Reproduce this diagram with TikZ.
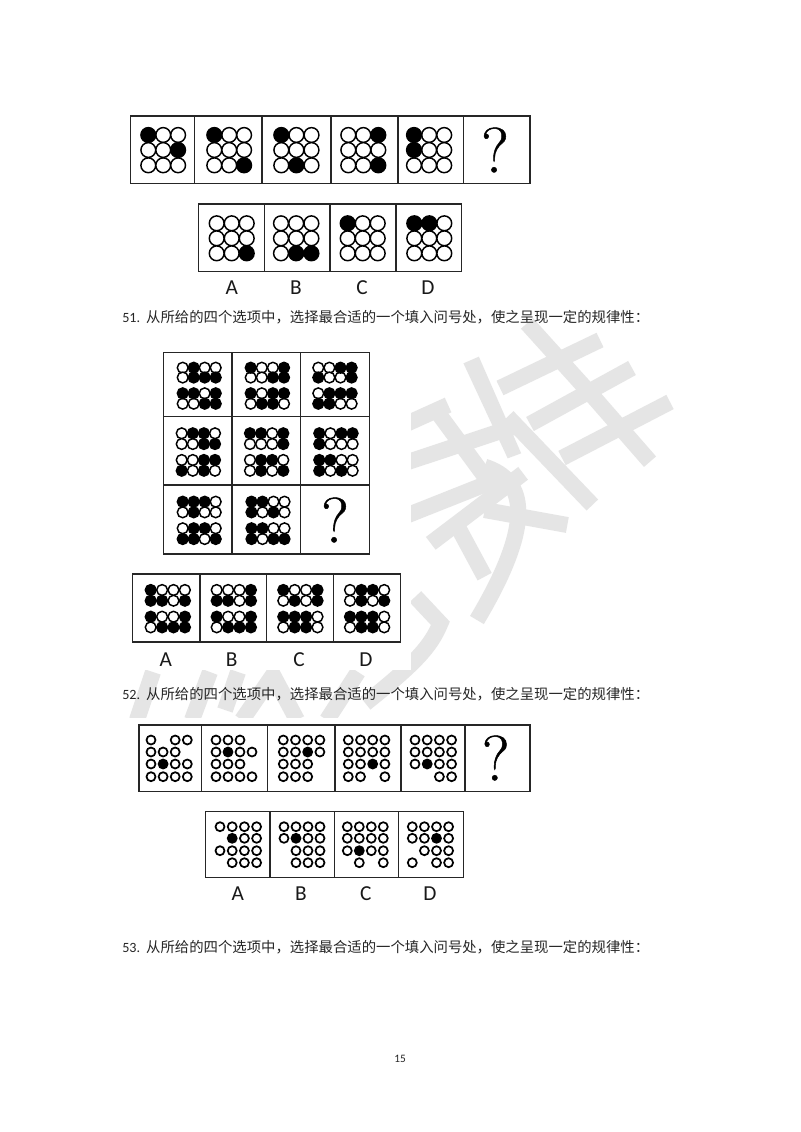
\documentclass[tikz,border=0pt]{standalone}
\usepackage{fontspec}
\setmainfont{Carlito}
\newfontfamily\cjkf{Noto Sans CJK SC}
\newfontfamily\qf[FakeBold=0.8]{Latin Modern Roman}
\tikzset{
  x=.75pt,y=-.75pt,
  boxline/.style={draw=black!85,line width=1.1pt},
  wm/.style={draw=black!10,line width=12pt,line cap=butt,line join=miter},
  wmf/.style={fill=black!10,draw=none},
  qtext/.style={anchor=west,inner sep=0pt,text=black!85,font=\fontsize{10.6}{12}\selectfont},
  lab/.style={inner sep=0pt,font=\fontsize{16}{17}\selectfont,text=black!90},
  qm/.style={inner sep=0pt,font=\qf\fontsize{#1}{#1}\selectfont},
  pageno/.style={inner sep=0pt,font=\fontsize{8.5}{10}\selectfont,text=black!85}
}
% #1 x0, #2 dx, #3 radius, #4 line width, #5 list y/{v,v,...}; 0 white, 1 black, 2 absent
\newcommand{\dotpanel}[5]{%
  \foreach \yy/\vals in {#5} {%
    \foreach \v [count=\ci from 0] in \vals {%
      \ifnum\v=0 \draw[black,line width=#4,fill=white] ({#1+\ci*#2},\yy) circle[radius=#3];\fi
    }%
  }%
  \foreach \yy/\vals in {#5} {%
    \foreach \v [count=\ci from 0] in \vals {%
      \ifnum\v=1 \draw[black,line width=#4,fill=black] ({#1+\ci*#2},\yy) circle[radius=#3];\fi
    }%
  }%
}
\newcommand{\qline}[3]{\node[qtext] (#1) at (122,#2) {#3.\hspace{4.5pt}{\cjkf\fontsize{10.78}{12}\selectfont 从所给的四个选项中，选择最合适的一个填入问号处，使之呈现一定的规律性：}};}
\begin{document}
\begin{tikzpicture}
\useasboundingbox (0,0) rectangle (800,1132);
\fill[white] (0,0) rectangle (800,1132);
% watermark
\begin{scope}[shift={(100,330)},x=.75pt/2.6,y=-.75pt/3]
  \fill[wmf] (945,100) -- (985,80) -- (1095,370) -- (1060,385) -- cycle;
  \draw[wm] (1060,260) -- (1280,525);
  \draw[wm] (1110,-20) -- (1290,210) -- (1430,395);
  \draw[wm] (790,285) -- (905,225);
  \draw[wm] (870,235) -- (1020,470);
  \draw[wm] (790,400) -- (1090,285);
  \draw[wm] (790,560) -- (1030,450);
  \draw[wm] (860,640) -- (1100,430) ;
  \draw[wm] (1000,410) .. controls (1110,450) and (1130,580) .. (980,870);
  \draw[wm] (1000,540) -- (1215,585);
  \draw[wm] (930,590) -- (1000,740);
  \draw[wm] (820,800) -- (885,880) .. controls (860,950) and (820,1000) .. (690,1120);
\end{scope}
\draw[wm] (500,388) -- (600,340);
\draw[wm] (530,424) -- (632,368);
\draw[wm] (562,458) -- (670,402);
% bottom hatch
\draw[wm] (153,672) -- (137,720);
\draw[wm] (210,672) -- (192,720);
\draw[wm] (238,672) -- (225,710);
\draw[wm] (242,720) -- (273,675) -- (297,720);
\draw[wm] (358,672) -- (327,720);
% white image backgrounds
\fill[white] (120,345) rectangle (411,670);
\fill[white] (120,718) rectangle (540,905);
% texts
\qline{q51}{317}{51}
\qline{q52}{694}{52}
\qline{q53}{947}{53}
\node[pageno] (pg) at (400,1059) {15};
\def\tr{7.4}\def\tw{1.1pt}
% --- top sequence
\draw[boxline] (130.5,116) rectangle (530,183.5);
\foreach \x in {194.5,262,331,398,463.5} \draw[boxline] (\x,116) -- (\x,183.5);
\dotpanel{148.3}{14.9}{\tr}{\tw}{135/{1,0,0},150/{0,0,1},165.3/{0,0,0}}
\dotpanel{214.3}{14.9}{\tr}{\tw}{135/{1,0,0},150/{0,0,0},165.3/{0,0,1}}
\dotpanel{281.3}{15.1}{\tr}{\tw}{135/{1,0,0},150/{0,0,0},165.3/{0,1,0}}
\dotpanel{348.3}{15}{\tr}{\tw}{135/{0,0,1},150/{0,0,0},165.3/{0,0,1}}
\dotpanel{414}{15.1}{\tr}{\tw}{135/{1,0,0},150/{1,0,0},165.3/{0,0,0}}
\node[qm=48] (q1) at (495,150) {?};
% --- options 1
\draw[boxline] (198.5,204) rectangle (461.5,271.5);
\foreach \x in {264.5,330,396} \draw[boxline] (\x,204) -- (\x,271.5);
\dotpanel{216.7}{15}{\tr}{\tw}{223.3/{0,0,0},238.3/{0,0,0},253.3/{0,0,1}}
\dotpanel{281}{15.2}{\tr}{\tw}{223.3/{0,0,0},238.3/{0,0,0},253.3/{0,1,1}}
\dotpanel{347.7}{15}{\tr}{\tw}{223.3/{1,0,0},238.3/{0,0,0},253.3/{0,0,0}}
\dotpanel{414.3}{15}{\tr}{\tw}{223.3/{1,1,0},238.3/{0,0,0},253.3/{0,0,0}}
\node[lab] (a1) at (231.7,288) {A};
\node[lab] (b1) at (296,288) {B};
\node[lab] (c1) at (362,288) {C};
\node[lab] (d1) at (428,288) {D};
% --- matrix 51
\draw[boxline] (163.5,352.5) rectangle (369.5,554);
\foreach \x in {232,300.5} \draw[boxline] (\x,352.5) -- (\x,554);
\foreach \y in {416.5,485} \draw[boxline] (163.5,\y) -- (369.5,\y);
\def\pr{5.4}\def\pw{1.1pt}
\dotpanel{182.7}{11}{\pr}{\pw}{367.7/{0,1,0,0},377.5/{0,1,1,1},393.3/{1,1,0,1},403.7/{0,0,1,1}}
\dotpanel{250.7}{11.1}{\pr}{\pw}{367.7/{1,0,0,1},377.5/{0,0,1,1},393.3/{1,0,1,1},403.7/{0,1,1,0}}
\dotpanel{318.3}{11.1}{\pr}{\pw}{367.7/{0,0,1,1},377.5/{1,0,0,1},393.3/{0,1,1,1},403.7/{1,1,0,0}}
\dotpanel{181.7}{11.1}{\pr}{\pw}{433.3/{0,1,1,0},444/{0,0,1,1},460/{0,0,1,1},470.7/{1,0,1,0}}
\dotpanel{250}{11.1}{\pr}{\pw}{433.3/{1,1,0,1},444/{0,0,0,1},460/{0,1,1,0},470.7/{0,1,0,1}}
\dotpanel{319.3}{11.1}{\pr}{\pw}{433.3/{1,0,1,1},444/{1,0,0,0},460/{1,1,0,0},470.7/{1,0,1,0}}
\dotpanel{182.7}{11}{\pr}{\pw}{501.7/{1,1,1,0},512.3/{0,1,0,0},528.3/{0,1,1,0},539/{1,1,0,1}}
\dotpanel{251.5}{11}{\pr}{\pw}{501.7/{1,1,0,0},512.3/{1,0,1,0},528.3/{1,1,0,0},539/{1,0,1,1}}
\node[qm=48] (q2) at (335,520) {?};
% --- options 51
\draw[boxline] (132.5,574) rectangle (400.5,642);
\foreach \x in {200,266.7,333.3} \draw[boxline] (\x,574) -- (\x,642);
\dotpanel{150.7}{11.4}{\pr}{\pw}{590/{1,0,0,0},600.7/{1,1,0,1},616.7/{1,0,0,1},627.3/{0,1,1,1}}
\dotpanel{216.7}{11.4}{\pr}{\pw}{590/{0,0,0,1},600.7/{1,1,0,1},616.7/{1,0,0,1},627.3/{0,1,1,1}}
\dotpanel{283.3}{11.4}{\pr}{\pw}{590/{1,0,0,1},600.7/{0,1,0,1},616.7/{1,1,1,0},627.3/{0,1,1,0}}
\dotpanel{350}{11.4}{\pr}{\pw}{590/{0,1,1,0},600.7/{0,1,0,1},616.7/{1,1,1,0},627.3/{0,1,1,0}}
\node[lab] (a2) at (165.7,660) {A};
\node[lab] (b2) at (231.7,660) {B};
\node[lab] (c2) at (299,660) {C};
\node[lab] (d2) at (366,660) {D};
% --- sequence 52
\draw[boxline] (139,725) rectangle (530,791.5);
\foreach \x in {201.3,267.7,335,401,465} \draw[boxline] (\x,725) -- (\x,791.5);
\def\sr{4.5}\def\sw{1.3pt}
\dotpanel{151}{12.1}{\sr}{\sw}{740/{0,2,0,0},752/{0,0,0,2},764/{0,1,0,0},776.7/{0,0,0,0}}
\dotpanel{216}{12}{\sr}{\sw}{740/{0,0,0,2},752/{0,1,0,0},764/{0,0,0,2},776.7/{0,0,0,0}}
\dotpanel{283.3}{12.2}{\sr}{\sw}{740/{0,0,0,0},752/{0,0,1,0},764/{0,0,0,2},776.7/{0,0,0,2}}
\dotpanel{348.3}{12.2}{\sr}{\sw}{740/{0,0,0,0},752/{0,0,0,0},764/{0,0,1,0},776.7/{0,0,2,0}}
\dotpanel{415}{12.2}{\sr}{\sw}{740/{0,0,0,0},752/{0,0,0,0},764/{0,1,0,0},776.7/{2,2,0,0}}
\node[qm=48] (q3) at (495.7,758) {?};
% --- options 52
\draw[boxline] (205.7,811.5) rectangle (463.5,877.5);
\foreach \x in {270,334.3,398.7} \draw[boxline] (\x,811.5) -- (\x,877.5);
\dotpanel{220}{12.2}{\sr}{\sw}{826.7/{0,0,0,0},838.3/{2,1,0,0},850.7/{0,0,0,0},862.7/{2,0,0,0}}
\dotpanel{284}{12}{\sr}{\sw}{826.7/{0,0,0,0},838.3/{0,1,0,0},850.7/{2,0,0,0},862.7/{2,0,0,0}}
\dotpanel{347.3}{12}{\sr}{\sw}{826.7/{0,0,0,0},838.3/{0,0,0,0},850.7/{0,1,0,0},862.7/{2,0,2,0}}
\dotpanel{412.3}{12.1}{\sr}{\sw}{826.7/{0,0,0,0},838.3/{0,0,1,0},850.7/{2,0,0,0},862.7/{0,2,0,0}}
\node[lab] (a3) at (237.7,894) {A};
\node[lab] (b3) at (301,894) {B};
\node[lab] (c3) at (365.7,894) {C};
\node[lab] (d3) at (430,894) {D};
\end{tikzpicture}
\end{document}
